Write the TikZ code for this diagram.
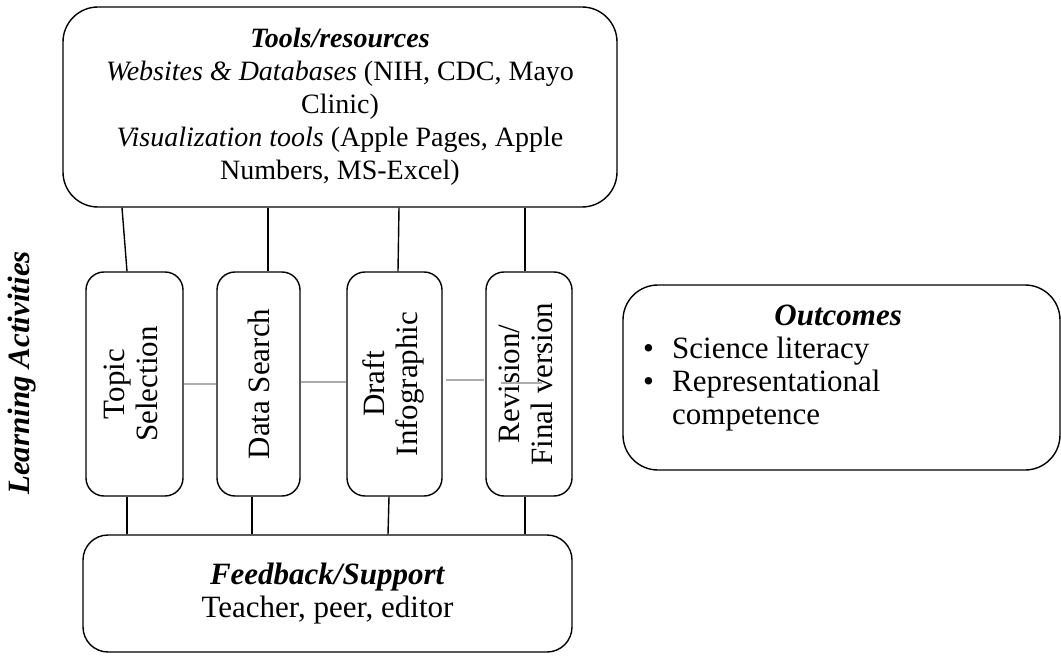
\documentclass[tikz,border=0pt]{standalone}
\usepackage{fontspec}
\setmainfont{Liberation Serif}
\usetikzlibrary{calc}
\begin{document}
\begin{tikzpicture}[x=1pt,y=-1pt,
  box/.style={draw, line width=1.4pt, rounded corners=#1},
  box/.default=18pt,
  txt/.style={font=\fontsize{31}{33}\selectfont},
  toptxt/.style={font=\fontsize{28}{33}\selectfont},
  link/.style={line width=1.4pt},
  glink/.style={line width=1.8pt, gray!65}]
\useasboundingbox (0,0) rectangle (1061,658);
% top box
\node[box=35pt, minimum width=554pt, minimum height=200pt, toptxt, align=center] (tools) at (340,107)
  {\textbf{\textit{Tools/resources}}\\
   \textit{Websites \& Databases} (NIH, CDC, Mayo\\
   Clinic)\\
   \textit{Visualization tools} (Apple Pages, Apple\\
   Numbers, MS-Excel)};
% learning activities label
\node[rotate=90, font=\fontsize{31}{33}\selectfont\bfseries\itshape] (learn) at (22,373) {Learning Activities};
% activity boxes
\node[box, txt, minimum width=97pt, minimum height=224pt, inner sep=0pt] (topic) at (134.5,384)
  {\rotatebox{90}{\begin{tabular}{@{}c@{}}Topic\\Selection\end{tabular}}};
\node[box, txt, minimum width=83pt, minimum height=224pt, inner sep=0pt] (data) at (258.5,384)
  {\rotatebox{90}{Data Search}};
\node[box, txt, minimum width=95pt, minimum height=224pt, inner sep=0pt] (draft) at (394.5,384)
  {\rotatebox{90}{\begin{tabular}{@{}c@{}}Draft\\Infographic\end{tabular}}};
\node[box, txt, minimum width=86pt, minimum height=224pt, inner sep=0pt] (revision) at (529,384)
  {\rotatebox{90}{\begin{tabular}{@{}c@{}}Revision/\\Final version\end{tabular}}};
% feedback box
\node[box=25pt, minimum width=489pt, minimum height=117pt, txt, align=center] (feed) at (327.5,593.5)
  {\textbf{\textit{Feedback/Support}}\\Teacher, peer, editor};
% outcomes box
\node[box=35pt, minimum width=437pt, minimum height=185pt] (outbox) at (841.5,377.5) {};
\node[txt, inner sep=0pt, anchor=west] (outtext) at (643,368)
  {\begin{tabular}{@{}p{29pt}@{}p{286pt}@{}}
   \multicolumn{2}{@{}l@{}}{\makebox[390pt]{\textbf{\textit{Outcomes}}}}\\
   \textbullet & Science literacy\\
   \textbullet & Representational\\
   & competence
   \end{tabular}};
% connectors to tools
\draw[link] ($(tools.south -| topic.north)+(-12.5,0)$) -- ($(topic.north)+(-7.5,0)$);
\draw[link] ($(tools.south -| data.north)+(9.5,0)$) -- ($(data.north)+(9.5,0)$);
\draw[link] ($(tools.south -| draft.north)+(4.5,0)$) -- ($(draft.north)+(3.5,0)$);
\draw[link] ($(tools.south -| revision.north)+(-4,0)$) -- ($(revision.north)+(-4,0)$);
% connectors to feedback
\draw[link] ($(topic.south)+(-7.5,0)$) -- ($(feed.north -| topic.south)+(-7.5,0)$);
\draw[link] ($(data.south)+(-6.5,0)$) -- ($(feed.north -| data.south)+(-6.5,0)$);
\draw[link] ($(draft.south)+(-5.5,0)$) -- ($(feed.north -| draft.south)+(-6.5,0)$);
\draw[link] ($(revision.south)+(-4,0)$) -- ($(feed.north -| revision.south)+(-4,0)$);
% gray links between activities
\draw[glink] (topic.east) -- (data.west);
\draw[glink] ($(data.east)+(0,-2)$) -- ($(draft.west)+(0,-2)$);
\draw[glink] ($(draft.east)+(3,-4)$) -- ($(revision.west)+(-1,-4)$);
\draw[glink] ($(revision.west)+(16,-1)$) -- ($(revision.west)+(57,-1)$);
\end{tikzpicture}
\end{document}
